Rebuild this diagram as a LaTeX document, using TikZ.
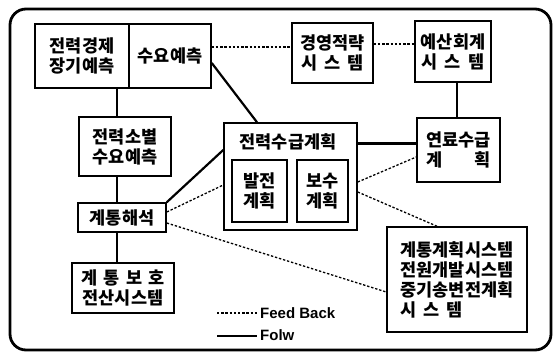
\documentclass[tikz,border=0pt]{standalone}
\usepackage{fontspec}
\setmainfont{Liberation Sans}
\newfontfamily\kr{Noto Sans CJK KR}
\newcommand{\gp}{\hspace{0.4em}}
\begin{document}
\begin{tikzpicture}[x=1pt,y=-1pt,
  box/.style={draw, line width=1.5pt, inner sep=0pt, align=center,
    font=\kr\bfseries\fontsize{17.5}{20}\selectfont},
  ibox/.style={box, line width=1.8pt},
  plain/.style={inner sep=0pt, align=center, font=\kr\bfseries\fontsize{17.5}{20}\selectfont},
  fb/.style={line width=1.3pt, dash pattern=on 2.4pt off 1.8pt},
  fl/.style={line width=2.2pt},
  lg/.style={inner sep=0pt, anchor=west, font=\bfseries\fontsize{15}{16}\selectfont}]
\useasboundingbox (0,0) rectangle (559,353);
\fill[white] (0,0) rectangle (559,353);
% outer frame
\draw[line width=2.8pt, rounded corners=16pt] (10,9) rectangle (551,350);
% nodes
\node[box, minimum width=94pt, minimum height=64pt] (A1) at (82,56) {전력경제\\장기예측};
\node[box, minimum width=82pt, minimum height=64pt] (A2) at (170,56) {수요예측};
\node[box, minimum width=81pt, minimum height=60pt] (K) at (332.5,53) {경영적략\\시\gp 스\gp 템};
\node[box, minimum width=76pt, minimum height=61pt] (Y) at (453,51.5) {예산회계\\시\gp 스\gp 템};
\node[box, minimum width=92pt, minimum height=59pt] (L) at (125,146.5) {전력소별\\수요예측};
\node[box, minimum width=133pt, minimum height=107pt] (S) at (290.5,176.5) {};
\node[plain] (ST) at (288,142) {전력수급계획};
\node[ibox, minimum width=55pt, minimum height=62pt] (B1) at (259.5,191) {발전\\계획};
\node[ibox, minimum width=51pt, minimum height=62pt] (B2) at (322.5,191) {보수\\계획};
\node[box, minimum width=83pt, minimum height=64pt] (F) at (458.5,150) {연료수급\\계\hspace{1.78em}획};
\node[box, minimum width=88pt, minimum height=29pt] (G) at (122,217.5) {계통해석};
\node[box, minimum width=102pt, minimum height=50pt] (P) at (123,288) {계\hspace{.35em}통\hspace{.35em}보\hspace{.35em}호\\전산시스템};
\node[box, align=left, minimum width=140pt, minimum height=105pt] (M) at (457,279.5) {계통계획시스템\\전원개발시스템\\중기송변전계획\\시\gp 스\gp 템};
% feedback (dashed)
\draw[fb] ([yshift=9pt]A2.east) -- ([yshift=9pt]A2.east -| K.west);
\draw[fb] ([yshift=9pt]K.east) -- ([yshift=9pt]K.east -| Y.west);
\draw[fb] ([yshift=-5.5pt]S.east) -- ([yshift=-7pt]F.west);
\draw[fb] ([yshift=-15.5pt]S.east) -- ([xshift=-20pt]M.north);
\draw[fb] ([yshift=5.5pt]G.east) -- ([yshift=-8.5pt]S.west);
\draw[fb] ([yshift=-5.5pt]G.east) -- ([yshift=-12.5pt]M.west);
% flow (solid)
\draw[fl] ([xshift=-8pt]L.north) -- ([xshift=-8pt]L.north |- A1.south);
\draw[fl] ([xshift=-8pt]L.south) -- ([xshift=-8pt]L.south |- G.north);
\draw[fl] ([xshift=-5pt]G.south) -- ([xshift=-5pt]G.south |- P.north);
\draw[fl] ([yshift=-7pt]A2.east) -- ([xshift=-33.5pt]S.north);
\draw[fl] ([xshift=4pt]Y.south) -- ([xshift=4pt]Y.south |- F.north);
\draw[fl] ([yshift=33pt]S.east) -- ([yshift=33pt]S.east -| F.west);
\draw[fl] (G.north east) -- ([yshift=26.5pt]S.west);
% legend
\node[lg] (fbt) at (260,313) {Feed Back};
\node[lg] (flt) at (260,335) {Folw};
\draw[fb] ([xshift=-43pt]fbt.west) -- ([xshift=-3pt]fbt.west);
\draw[fl, line width=2pt] ([xshift=-43pt,yshift=-1pt]flt.west) -- ([xshift=-3pt,yshift=-1pt]flt.west);
\end{tikzpicture}
\end{document}
